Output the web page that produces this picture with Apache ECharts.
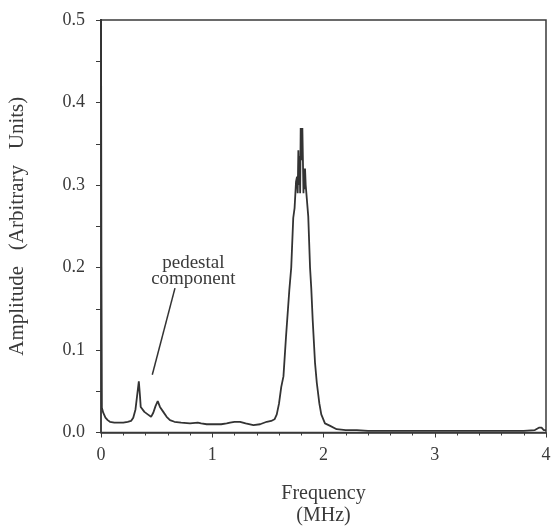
<!DOCTYPE html>
<html>
<head>
<meta charset="utf-8">
<script src="https://cdn.jsdelivr.net/npm/echarts@6/dist/echarts.min.js"></script>
<style>
html,body{margin:0;padding:0;background:#fff;}
#c{width:553px;height:527px;}
</style>
</head>
<body>
<div id="c"></div>
<script>
// Frequency (MHz)
const freq = [0, 0.004, 0.008, 0.02, 0.04, 0.06, 0.08, 0.12, 0.16, 0.2, 0.24, 0.27, 0.29, 0.31, 0.325, 0.34, 0.35, 0.357, 0.37, 0.39, 0.42, 0.45, 0.47, 0.49, 0.51, 0.53, 0.56, 0.59, 0.62, 0.66, 0.72, 0.8, 0.87, 0.9, 0.95, 1.02, 1.08, 1.13, 1.16, 1.2, 1.25, 1.3, 1.37, 1.43, 1.49, 1.53, 1.56, 1.58, 1.6, 1.62, 1.64, 1.663, 1.693, 1.71, 1.728, 1.74, 1.753, 1.762, 1.768, 1.774, 1.78, 1.785, 1.79, 1.795, 1.8, 1.805, 1.81, 1.815, 1.82, 1.825, 1.83, 1.834, 1.84, 1.849, 1.863, 1.879, 1.89, 1.903, 1.924, 1.94, 1.963, 1.98, 2.013, 2.06, 2.118, 2.2, 2.3, 2.4, 2.6, 2.8, 3.0, 3.2, 3.4, 3.6, 3.8, 3.9, 3.94, 3.96, 3.98, 4.0];
// Amplitude (arbitrary units)
const amp = [0.52, 0.2, 0.03, 0.024, 0.018, 0.015, 0.013, 0.012, 0.012, 0.012, 0.013, 0.014, 0.018, 0.028, 0.045, 0.062, 0.045, 0.031, 0.029, 0.025, 0.022, 0.019, 0.024, 0.032, 0.038, 0.031, 0.025, 0.019, 0.015, 0.013, 0.012, 0.011, 0.012, 0.011, 0.010, 0.010, 0.010, 0.011, 0.012, 0.013, 0.013, 0.011, 0.009, 0.010, 0.013, 0.014, 0.016, 0.022, 0.035, 0.055, 0.068, 0.116, 0.173, 0.2, 0.26, 0.272, 0.304, 0.31, 0.29, 0.342, 0.30, 0.335, 0.29, 0.369, 0.33, 0.36, 0.369, 0.33, 0.29, 0.32, 0.295, 0.32, 0.30, 0.30, 0.262, 0.2, 0.175, 0.136, 0.084, 0.06, 0.035, 0.022, 0.011, 0.008, 0.004, 0.003, 0.003, 0.002, 0.002, 0.002, 0.002, 0.002, 0.002, 0.002, 0.002, 0.003, 0.006, 0.006, 0.003, 0.003];
const xTicks = [0, 1, 2, 3, 4];
const yTicks = [0.0, 0.1, 0.2, 0.3, 0.4, 0.5];
const annotationText = 'pedestal\ncomponent';
const annotationLine = [[0.665, 0.175], [0.461, 0.07]];

const ink = '#3a3a3a';
const font = '"Liberation Serif", "Times New Roman", serif';
const chart = echarts.init(document.getElementById('c'), null, {renderer: 'canvas'});
const option = {
  backgroundColor: '#fff',
  animation: false,
  grid: {left: 101, right: 7, top: 20, bottom: 94.5, show: true, borderColor: ink, borderWidth: 1.5, containLabel: false, outerBoundsMode: 'none'},
  xAxis: {
    type: 'value', min: 0, max: 4, interval: 1,
    name: 'Frequency\n(MHz)', nameLocation: 'middle', nameGap: 50,
    nameTextStyle: {color: ink, fontFamily: font, fontSize: 20, lineHeight: 22},
    axisLine: {show: true, onZero: false, lineStyle: {color: ink, width: 1.5}},
    axisTick: {show: true, inside: false, length: 5, lineStyle: {color: ink, width: 1}},
    minorTick: {show: true, splitNumber: 5, length: 3, lineStyle: {color: ink, width: 1}},
    splitLine: {show: false},
    axisLabel: {color: ink, fontFamily: font, fontSize: 18, margin: 14,
      formatter: v => xTicks.includes(v) ? String(v) : ''}
  },
  yAxis: {
    type: 'value', min: 0, max: 0.5, interval: 0.1,
    name: 'Amplitude   (Arbitrary   Units)', nameLocation: 'middle', nameGap: 73,
    nameTextStyle: {color: ink, fontFamily: font, fontSize: 21},
    axisLine: {show: true, onZero: false, lineStyle: {color: ink, width: 1.5}},
    axisTick: {show: true, inside: false, length: 5, lineStyle: {color: ink, width: 1}},
    minorTick: {show: true, splitNumber: 2, length: 5, lineStyle: {color: ink, width: 1}},
    splitLine: {show: false},
    axisLabel: {color: ink, fontFamily: font, fontSize: 18, margin: 16,
      formatter: v => { const t = yTicks.find(k => Math.abs(k - v) < 1e-9); return t === undefined ? '' : t.toFixed(1); }}
  },
  series: [{
    type: 'line',
    data: freq.map((f, i) => [f, amp[i]]),
    showSymbol: false, symbol: 'none', clip: true,
    lineStyle: {color: '#333', width: 1.8},
    markLine: {
      silent: true, symbol: ['none', 'none'], label: {show: false},
      lineStyle: {color: '#333', width: 1.5, type: 'solid'},
      data: [[{coord: annotationLine[0]}, {coord: annotationLine[1]}]]
    }
  }]
};
chart.setOption(option);
const p = chart.convertToPixel({gridIndex: 0}, [0.9, 0.21]);
chart.setOption({
  graphic: [{
    type: 'text', left: p[0] - 50, top: p[1] - 6,
    style: {text: annotationText, fill: ink, font: '19px ' + font, textAlign: 'center', lineHeight: 16, x: 50}
  }]
});
</script>
</body>
</html>
